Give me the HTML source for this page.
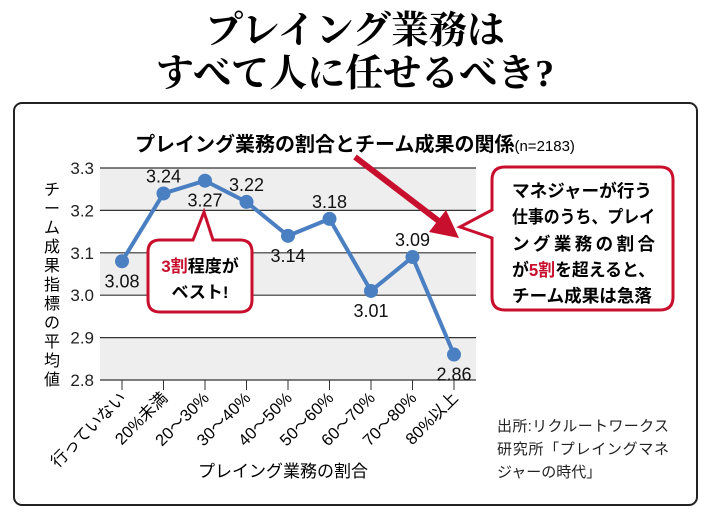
<!DOCTYPE html>
<html><head><meta charset="utf-8"><style>
body{margin:0;background:#fff;width:710px;height:516px;overflow:hidden;font-family:"Liberation Sans","Noto Sans CJK JP",sans-serif}
</style></head><body>
<svg width="710" height="516" viewBox="0 0 710 516" xmlns="http://www.w3.org/2000/svg">
<text x="355" y="43" text-anchor="middle" font-family="'Liberation Serif','Noto Serif CJK SC',serif" font-weight="bold" font-size="38">プレイング業務は</text>
<text x="355" y="86" text-anchor="middle" font-family="'Liberation Serif','Noto Serif CJK SC',serif" font-weight="bold" font-size="38">すべて人に任せるべき?</text>
<rect x="14" y="103" width="683" height="402" rx="8" fill="#fff" stroke="#222" stroke-width="2"/>
<text x="355" y="151" text-anchor="middle" font-weight="bold" font-size="20">プレイング業務の割合とチーム成果の関係<tspan font-weight="normal" font-size="15">(n=2183)</tspan></text>
<g id="plot"></g>
<g font-size="16" text-anchor="middle">
<text x="52" y="195">チ</text><text x="52" y="214">ー</text><text x="52" y="233">ム</text><text x="52" y="252">成</text><text x="52" y="271">果</text><text x="52" y="290">指</text><text x="52" y="309">標</text><text x="52" y="328">の</text><text x="52" y="347">平</text><text x="52" y="366">均</text><text x="52" y="385">値</text>
</g>
<text x="283" y="477" text-anchor="middle" font-size="17">プレイング業務の割合</text>
<g font-size="15" fill="#222">
<text x="497" y="431" textLength="172">出所:リクルートワークス</text>
<text x="497" y="454" textLength="172">研究所「プレイングマネ</text>
<text x="497" y="477">ジャーの時代」</text>
</g>
<!-- left callout -->
<path d="M160,240 L193,240 L204,212 L213,240 L240,240 Q252,240 252,252 L252,300 Q252,312 240,312 L160,312 Q148,312 148,300 L148,252 Q148,240 160,240 Z" fill="#fff" stroke="#c8102e" stroke-width="3"/>
<text x="200" y="272" text-anchor="middle" font-size="17" font-weight="bold"><tspan fill="#c8102e">3割</tspan>程度が</text>
<text x="200" y="298" text-anchor="middle" font-size="17" font-weight="bold">ベスト!</text>
<!-- arrow -->
<line x1="355" y1="157" x2="440" y2="222" stroke="#c8102e" stroke-width="6"/>
<polygon points="459,238 429,232 446,210" fill="#c8102e"/>
<!-- right callout -->
<path d="M505,167 L660,167 Q673,167 673,180 L673,297 Q673,310 660,310 L505,310 Q492,310 492,297 L492,238 L460,227 L492,210 L492,180 Q492,167 505,167 Z" fill="#fff" stroke="#c8102e" stroke-width="3"/>
<g font-size="17.5" font-weight="bold">
<text x="512" y="197" textLength="140" lengthAdjust="spacingAndGlyphs">マネジャーが行う</text>
<text x="512" y="223" textLength="143" lengthAdjust="spacingAndGlyphs">仕事のうち、プレイ</text>
<text x="512" y="250" textLength="143">ング業務の割合</text>
<text x="512" y="276" textLength="143" lengthAdjust="spacingAndGlyphs">が<tspan fill="#c8102e">5割</tspan>を超えると、</text>
<text x="512" y="302" textLength="140" lengthAdjust="spacingAndGlyphs">チーム成果は急落</text>
</g>
</svg>
<script>
const categories=["行っていない","20%未満","20～30%","30～40%","40～50%","50～60%","60～70%","70～80%","80%以上"];
const values=[3.08,3.24,3.27,3.22,3.14,3.18,3.01,3.09,2.86];
const valueLabels=["3.08","3.24","3.27","3.22","3.14","3.18","3.01","3.09","2.86"];
const labelBelow=[true,false,true,false,true,false,true,false,true];
const yTicks=[3.3,3.2,3.1,3.0,2.9,2.8];
const yTickLabels=["3.3","3.2","3.1","3.0","2.9","2.8"];
const NS="http://www.w3.org/2000/svg";
const g=document.getElementById('plot');
const L=100,R=476,T=168,B=380,ymin=2.8,ymax=3.3;
const x0=122,step=41.5;
function xs(i){return x0+i*step;}
function ys(v){return B-(v-ymin)/(ymax-ymin)*(B-T);}
function mk(t,a){const e=document.createElementNS(NS,t);for(const k in a)e.setAttribute(k,a[k]);g.appendChild(e);return e;}
for(let i=0;i<yTicks.length-1;i+=2){
  const b=mk('rect',{x:L,y:ys(yTicks[i]),width:R-L,height:ys(yTicks[i+1])-ys(yTicks[i]),fill:'#eeeeee'});
  
  
}
yTicks.forEach((v,i)=>{
  const l=mk('line',{x1:L,x2:R,y1:ys(v),y2:ys(v),stroke:'#333','stroke-width':1.2});
  
  
  const t=mk('text',{x:L-6,y:ys(v)+6,'text-anchor':'end','font-size':17,fill:'#222'});
  t.textContent=yTickLabels[i];
  
  
});
categories.forEach((c,i)=>{
  const tk=mk('line',{x1:xs(i),x2:xs(i),y1:B,y2:B+10,stroke:'#333','stroke-width':1});
  
  
  const t=mk('text',{x:xs(i)+5,y:B+19,'text-anchor':'end','font-size':16.5,transform:`rotate(-45 ${xs(i)+5} ${B+19})`});
  t.textContent=c;
  
  
});
const pts=values.map((v,i)=>xs(i)+','+ys(v)).join(' ');
const pl=mk('polyline',{points:pts,fill:'none',stroke:'#4a7fc1','stroke-width':4,'stroke-linejoin':'round'});


values.forEach((v,i)=>{
  const c=mk('circle',{cx:xs(i),cy:ys(v),r:7,fill:'#4a7fc1'});
  
  
  const t=mk('text',{x:xs(i),y:labelBelow[i]?ys(v)+26:ys(v)-11,'text-anchor':'middle','font-size':18,fill:'#111'});
  t.textContent=valueLabels[i];
  
  
});
</script>
</body></html>
